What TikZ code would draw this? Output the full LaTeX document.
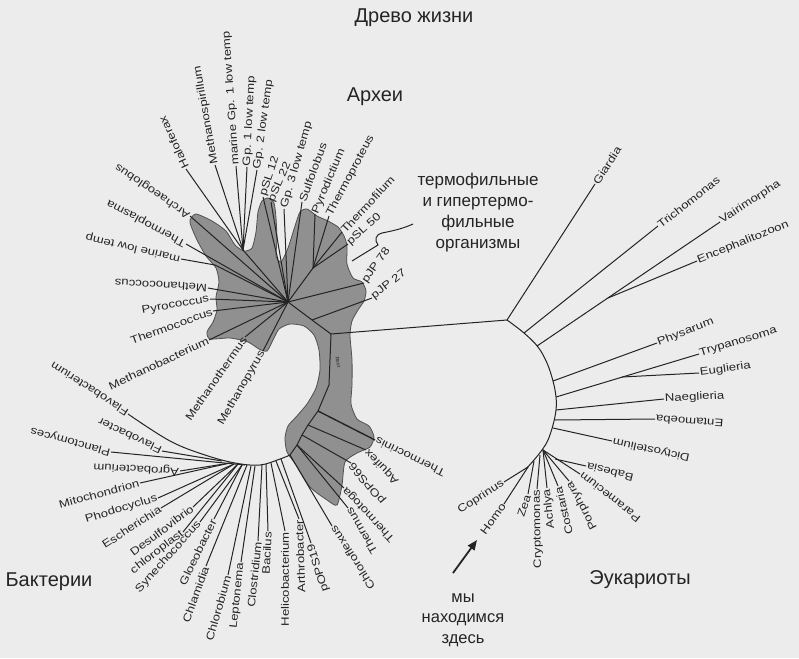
\documentclass[tikz,border=0pt]{standalone}
\usepackage{fontspec}
\setmainfont{Liberation Sans}
\newfontfamily\lblfont[FakeStretch=1.22]{Liberation Sans}
\usetikzlibrary{arrows.meta}
\definecolor{bg}{RGB}{236,236,236}
\definecolor{blobfill}{RGB}{144,144,144}
\definecolor{blobline}{RGB}{80,80,80}
\definecolor{ink}{RGB}{36,36,36}
\tikzset{
  lab/.style={font=\lblfont\fontsize{10.8}{10.8}\selectfont, inner sep=0.8pt, text=ink},
  br/.style={draw=ink, line width=1pt},
  big/.style={font=\fontsize{20}{22}\selectfont, text=ink, inner sep=0pt},
  mid/.style={font=\fontsize{17}{21}\selectfont, text=ink, inner sep=0pt, align=center},
}
\newcommand\labW[5]{\node[lab,rotate=#4,anchor=west] (#1) at (#2,#3) {#5};}
\newcommand\labE[5]{\node[lab,rotate=#4,anchor=east] (#1) at (#2,#3) {#5};}
\begin{document}
\begin{tikzpicture}[x=1pt,y=-1pt]
\fill[bg] (0,0) rectangle (799,658);
\useasboundingbox (0,0) rectangle (799,658);

% ---------- archaeal blob ----------
\draw[fill=blobfill, draw=blobline, line width=0.8pt] plot[smooth cycle, tension=0.4] coordinates {
(190,220) (196,214) (212,221) (226,231) (235,245) (244,251) (252,248) (256,232) (258,212) (262,201) (268,198) (274,203) (276,218) (277,240) (276,256) (281,262) (288,248) (295,226) (300,212) (307,209) (317,216) (328,221) (338,227) (344,236) (347,246) (347,264) (353,278) (362,282) (366,291) (364,301) (358,310) (352,321) (350,335) (352,360) (352,385) (351,404) (357,419) (369,426) (374,437) (370,447) (357,453) (345,462) (342,485) (337,505) (327,500) (310,487) (296,465) (287,452) (285,438) (288,426) (296,417) (307,404) (316,388) (320,370) (319,350) (314,335) (304,326) (290,324) (279,329) (273,340) (267,351) (259,349) (248,342) (230,338) (210,339) (207,332) (213,322) (217,310) (216,297) (219,282) (216,268) (206,256) (197,240) (191,226)};

% ---------- internal coordinates ----------
\coordinate (C) at (288,302);
\coordinate (T) at (243,250);
\coordinate (R) at (313,268);
\coordinate (D) at (312,320);
\coordinate (E) at (331,334);
\coordinate (K1) at (329,385);
\coordinate (K2) at (318,411);
\coordinate (K3) at (308,425);
\coordinate (K4) at (302,435);
\coordinate (K5) at (297,445);
\coordinate (B) at (290,455);
\coordinate (ML) at (215,265);

% ---------- archaea labels ----------
\labW{haloferax}{186}{169}{115}{Haloferax}
\labW{methanospir}{215}{165}{100}{Methanospirillum}
\labW{marinegp}{236}{166}{94}{marine Gp. 1 low temp}
\labW{gpone}{247}{167}{87}{Gp. 1 low temp}
\labW{gptwo}{257}{170}{82}{Gp. 2 low temp}
\labW{pslA}{263}{197}{72}{pSL 12}
\labW{pslB}{271}{202}{66}{pSL 22}
\labW{gpthree}{284}{209}{74}{Gp. 3 low temp}
\labW{sulfolobus}{302}{202}{70}{Sulfolobus}
\labW{pyrodictium}{315}{214}{67}{Pyrodictium}
\labW{thermoproteus}{329}{216}{62}{Thermoproteus}
\labW{thermofilum}{342}{232}{47}{Thermofilum}
\labW{pslC}{348}{244}{42}{pSL 50}
\labW{pjpA}{364}{283}{55}{pJP 78}
\labW{pjpB}{372}{298}{38}{pJP 27}
\labW{archaeoglobus}{190}{216}{146}{Archaeoglobus}
\labW{thermoplasma}{186}{244}{152}{Thermoplasma}
\labW{marinelow}{181}{259}{167}{marine low temp}
\labW{methanococcus}{208}{288}{177}{Methanococcus}
\labE{pyrococcus}{210}{299}{10}{Pyrococcus}
\labE{thermococcus}{213}{311}{20}{Thermococcus}
\labE{methanobact}{209}{340}{25}{Methanobacterium}
\labE{methanotherm}{245}{337}{55}{Methanothermus}
\labE{methanopyrus}{263}{351}{60}{Methanopyrus}

% ---------- archaea branches ----------
\draw[br] (C) -- (T);
\foreach \n in {haloferax,methanospir,marinegp,gpone,gptwo} \draw[br] (T) -- (\n.west);
\foreach \n in {pslA,pslB,gpthree,sulfolobus,archaeoglobus,thermoplasma,methanococcus,pjpA} \draw[br] (C) -- (\n.west);
\draw[br] (C) -- (R);
\foreach \n in {pyrodictium,thermoproteus,thermofilum,pslC} \draw[br] (R) -- (\n.west);
\draw[br] (D) -- (pjpB.west);
\draw[br] (C) -- (ML) -- (marinelow.west);
\foreach \n in {pyrococcus,thermococcus,methanobact,methanotherm,methanopyrus} \draw[br] (C) -- (\n.east);

% ---------- trunk ----------
\draw[br] (C) -- (D) -- (E) -- (K1) -- (K2) -- (K3) -- (K4) -- (K5) -- (B);
\node[font=\fontsize{5}{5}\selectfont, rotate=-80, text=ink, inner sep=0pt] (root) at (338,362) {Root};

% ---------- thermophile pointer ----------
\node[mid] (thermo) at (478,213) {термофильные\\и гипертермо-\\фильные\\организмы};
\coordinate (S0) at (352,261);
\coordinate (S1) at (378,245);
\coordinate (S2) at (382,233);
\coordinate (S3) at (413,224);
\draw[br] (S0) -- (S1) .. controls (374,240) and (376,234) .. (S2) .. controls (392,231) and (402,229) .. (S3);

% ---------- bacteria ----------
\labW{flavobacterium}{128}{414}{147}{Flavobacterium}
\labW{flavobacter}{162}{451}{155}{Flavobacter}
\labW{planctomyces}{111}{452}{165}{Planctomyces}
\labW{agrobacterium}{180}{471}{177}{Agrobacterium}
\labE{mitochondrion}{140}{483}{15}{Mitochondrion}
\labE{phodocyclus}{158}{498}{17}{Phodocyclus}
\labE{escherichia}{161}{508}{33}{Escherichia}
\labE{desulfovibrio}{193}{507}{37}{Desulfovibrio}
\labE{chloroplast}{183}{532}{38}{chloroplast}
\labE{synechococcus}{200}{522}{48}{Synechococcus}
\labE{gloeobacter}{214}{519}{64}{Gloeobacter}
\labE{chlamidia}{206}{566}{70}{Chlamidia}
\labE{chlorobium}{228}{575}{74}{Chlorobium}
\labE{leptonema}{241}{562}{84}{Leptonema}
\labE{clostridium}{258}{541}{84}{Clostridium}
\labE{bacilus}{268}{531}{87}{Bacilus}
\labE{helicobact}{285}{531}{90}{Helicobacterium}
\labE{arthrobacter}{299}{519}{92}{Arthrobacter}
\labE{popsA}{311}{543}{107}{pOPS19}
\labE{chloroflexus}{332}{526}{123}{Chloroflexus}
\labE{thermus}{348}{508}{120}{Thermus}
\labE{thermotoga}{344}{488}{133}{Thermotoga}
\labE{popsB}{351}{463}{130}{pOPS66}
\labE{aquifex}{366}{450}{134}{Aquifex}
\labE{thermocrinis}{375}{440}{154}{Thermocrinis}

\draw[br] (flavobacterium.west) plot[smooth, tension=0.6] coordinates {(128,414) (170,441) (205,455) (235,463) (260,465) (280,459) (290,455)};
\coordinate (b1) at (222,461);
\coordinate (b2) at (245,465);
\coordinate (b3) at (230,463);
\coordinate (b4) at (234,464);
\coordinate (b5) at (238,464);
\coordinate (b6) at (242,465);
\coordinate (b7) at (247,465);
\coordinate (b8) at (251,466);
\coordinate (b9) at (255,466);
\coordinate (b10) at (262,465);
\coordinate (b11) at (266,464);
\coordinate (b12) at (271,463);
\coordinate (b13) at (276,461);
\coordinate (b14) at (281,459);
\draw[br] (b1) -- (flavobacter.west);
\draw[br] (b2) -- (planctomyces.west);
\draw[br] (b3) -- (agrobacterium.west);
\draw[br] (b3) -- (mitochondrion.east);
\draw[br] (b4) -- (phodocyclus.east);
\draw[br] (b4) -- (escherichia.east);
\draw[br] (b5) -- (desulfovibrio.east);
\draw[br] (b5) -- (chloroplast.east);
\draw[br] (b6) -- (synechococcus.east);
\draw[br] (b6) -- (gloeobacter.east);
\draw[br] (b7) -- (chlamidia.east);
\draw[br] (b8) -- (chlorobium.east);
\draw[br] (b9) -- (leptonema.east);
\draw[br] (b10) -- (clostridium.east);
\draw[br] (b11) -- (bacilus.east);
\draw[br] (b12) -- (helicobact.east);
\draw[br] (b13) -- (arthrobacter.east);
\draw[br] (b14) -- (popsA.east);
\draw[br] (B) -- (chloroflexus.east);
\draw[br] (K5) -- (thermus.east);
\draw[br] (K5) -- (thermotoga.east);
\draw[br] (K4) -- (popsB.east);
\draw[br] (K3) -- (aquifex.east);
\draw[br, line width=1.4pt] (K2) -- (thermocrinis.east);

% ---------- eukaryotes ----------
\coordinate (J) at (507,320);
\coordinate (e1) at (524,333);
\coordinate (e2) at (537,346);
\coordinate (e3) at (553,381);
\coordinate (e4) at (556,397);
\coordinate (e5) at (556,410);
\coordinate (e6) at (555,420);
\coordinate (e7) at (553,428);
\coordinate (F) at (543,450);
\coordinate (e8) at (540,455);
\coordinate (e9) at (534,461);
\coordinate (e10) at (528,467);
\draw[br] (E) -- (J);
\draw[br] plot[smooth, tension=0.6] coordinates {(507,320) (524,333) (538,347) (547,363) (553,381) (556,397) (556,410) (553,425) (548,440) (542,450) (534,460) (526,469)};

\labW{giardia}{595}{184}{57}{Giardia}
\labW{trichomonas}{658}{226}{38}{Trichomonas}
\labW{vairimorpha}{720}{222}{33}{Vairimorpha}
\labW{encephalito}{697}{261}{22}{Encephalitozoon}
\labW{physarum}{657}{343}{21}{Physarum}
\labW{trypanosoma}{699}{354}{17}{Trypanosoma}
\labW{euglena}{699}{373}{8}{Euglieria}
\labW{naegleria}{664}{399}{3}{Naeglieria}
\labE{entamoeba}{655}{419}{176}{Entamoeba}
\labE{dictyostelium}{612}{441}{168}{Dictyostelium}
\labE{babesia}{586}{466}{166}{Babesia}
\labE{paramecium}{580}{474}{142}{Paramecium}
\labE{porphyra}{569}{481}{118}{Porphyra}
\labE{costaria}{558}{486}{103}{Costaria}
\labE{achlya}{547}{488}{96}{Achlya}
\labE{cryptomonas}{537}{489}{91}{Cryptomonas}
\labE{zea}{528}{494}{72}{Zea}
\labE{homo}{504}{504}{54}{Homo}
\labE{coprinus}{504}{482}{33}{Coprinus}

\coordinate (V2) at (608,298);
\coordinate (T2) at (622,377);
\coordinate (P2) at (555,459);
\draw[br] (J) -- (giardia.west);
\draw[br] (e1) -- (trichomonas.west);
\draw[br] (e2) -- (vairimorpha.west);
\draw[br] (V2) -- (encephalito.west);
\draw[br] (e3) -- (physarum.west);
\draw[br] (e4) -- (trypanosoma.west);
\draw[br] (T2) -- (euglena.west);
\draw[br] (e5) -- (naegleria.west);
\draw[br] (e6) -- (entamoeba.east);
\draw[br] (e7) -- (dictyostelium.east);
\draw[br] (P2) -- (babesia.east);
\foreach \n in {paramecium,porphyra,costaria,achlya} \draw[br] (F) -- (\n.east);
\draw[br] (e8) -- (cryptomonas.east);
\draw[br] (e9) -- (zea.east);
\draw[br] (e10) -- (homo.east);
\draw[br] (e10) -- (coprinus.east);

% ---------- big labels ----------
\node[big] (title) at (414,18) {Древо жизни};
\node[big] (archaea) at (375,97) {Археи};
\node[big] (bacteria) at (49,582) {Бактерии};
\node[big] (eukarya) at (640,580) {Эукариоты};
\node[mid, font=\fontsize{16.5}{20.5}\selectfont] (here) at (463,620) {мы\\находимся\\здесь};
\coordinate (arrT) at (453,573);
\coordinate (arrH) at (477,540);
\draw[ink, line width=1.8pt, -{Triangle[length=10pt,width=8pt]}] (arrT) -- (arrH);
\end{tikzpicture}
\end{document}
